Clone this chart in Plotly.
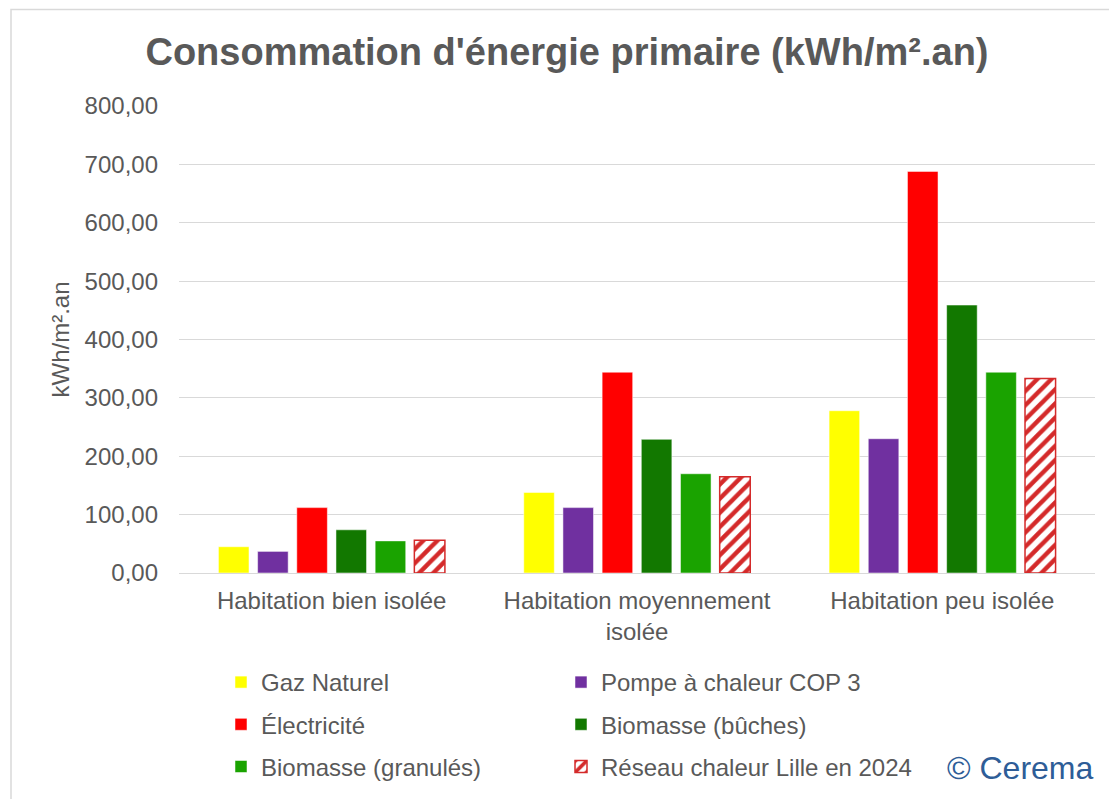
import plotly.graph_objects as go

# categories (x axis)
categories = ["Habitation bien isolée", "Habitation moyennement<br>isolée", "Habitation peu isolée"]

# series, values (kWh/m².an)
gaz_naturel = [45, 138, 278]
pompe_chaleur = [37, 112, 230]
electricite = [112, 344, 688]
biomasse_buches = [74, 229, 459]
biomasse_granules = [55, 170, 344]
reseau_lille = [56, 165, 333]

series_names = [
    "Gaz Naturel",
    "Pompe à chaleur COP 3",
    "Électricité",
    "Biomasse (bûches)",
    "Biomasse (granulés)",
    "Réseau chaleur Lille en 2024",
]
series_values = [gaz_naturel, pompe_chaleur, electricite, biomasse_buches, biomasse_granules, reseau_lille]
series_colors = ["#FFFF00", "#7030A0", "#FF0000", "#127800", "#1AA300", "#D42A2A"]

GREY = "#595959"
FONT = "Liberation Sans, Arial, sans-serif"
W, H = 1117, 799

fig = go.Figure()
for i, (name, vals, col) in enumerate(zip(series_names, series_values, series_colors)):
    legend_id = "legend" if i % 2 == 0 else "legend2"
    if i == 5:
        marker = dict(
            color="white",
            line=dict(color=col, width=1.5),
            pattern=dict(shape="/", fgcolor=col, fgopacity=1, bgcolor="white",
                         size=10, solidity=0.45, fillmode="replace"),
        )
    else:
        marker = dict(color=col, line=dict(color="rgba(255,255,255,0.5)", width=1))
    fig.add_trace(go.Bar(
        x=categories, y=vals, name=name, marker=marker,
        legend=legend_id, legendgroup=name,
    ))

# legends: two columns of three rows, placed in container coords
legend_common = dict(
    orientation="v", xref="container", yref="container",
    yanchor="top", y=1 - 652 / H, xanchor="left",
    font=dict(family=FONT, size=24, color=GREY),
    tracegroupgap=8, bgcolor="rgba(0,0,0,0)", itemwidth=30,
)

fig.update_layout(
    width=W, height=H,
    margin=dict(l=171, r=30, t=98, b=234, autoexpand=False),
    paper_bgcolor="white", plot_bgcolor="white",
    separators=", ",
    barmode="group", bargap=0.23, bargroupgap=0.22,
    font=dict(family=FONT, size=24, color=GREY),
    title=dict(
        text="<b>Consommation d'énergie primaire (kWh/m².an)</b>",
        x=559 / W, xref="container", xanchor="center",
        y=1 - 44 / H, yref="container", yanchor="middle",
        font=dict(family=FONT, size=38, color=GREY),
    ),
    legend=dict(legend_common, x=213 / W),
    legend2=dict(legend_common, x=553 / W),
    showlegend=True,
)

fig.update_yaxes(
    range=[0, 800], dtick=100, tickformat=".2f",
    showgrid=True, gridcolor="#D9D9D9", gridwidth=1,
    zeroline=False, showline=False, ticks="", ticklabelstandoff=20,
    tickfont=dict(family=FONT, size=24, color=GREY),
)
fig.update_xaxes(
    showline=True, linecolor="#D9D9D9", linewidth=1, ticks="", ticklabelstandoff=6,
    tickfont=dict(family=FONT, size=24, color=GREY),
)

# y axis title
fig.add_annotation(
    text="kWh/m².an", textangle=-90, xref="paper", yref="paper",
    x=(52 - 171) / 916, y=0.5, xanchor="center", yanchor="middle", showarrow=False,
    font=dict(family=FONT, size=24, color=GREY),
)

# chart frame
fig.add_shape(type="rect", xref="paper", yref="paper", x0=-0.1834, x1=1.1, y0=-0.7, y1=1.2066,
              line=dict(color="#D9D9D9", width=1.5), fillcolor="rgba(0,0,0,0)", layer="below")

fig.add_annotation(
    text="© Cerema", xref="paper", yref="paper", x=(1087 - 171) / 916, y=(565 - 760) / 467,
    xanchor="right", yanchor="middle", showarrow=False,
    font=dict(family=FONT, size=32, color="#2E5D97"),
)

fig.write_html("out.html")
